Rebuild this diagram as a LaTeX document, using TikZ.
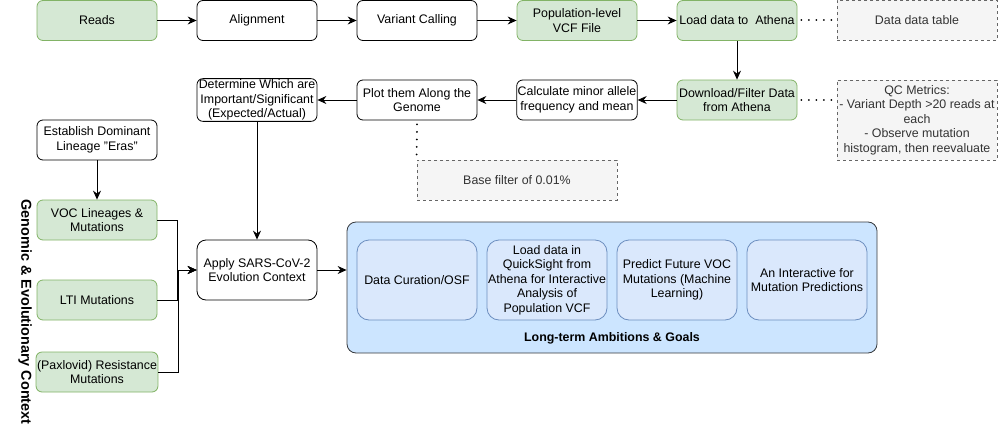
\documentclass[tikz,border=0pt]{standalone}
\usepackage{fontspec}
\setmainfont{Liberation Sans}
\usetikzlibrary{arrows.meta}
\definecolor{gfill}{HTML}{D5E8D4}
\definecolor{gline}{HTML}{82B366}
\definecolor{nfill}{HTML}{F5F5F5}
\definecolor{nline}{HTML}{666666}
\definecolor{ntext}{HTML}{333333}
\definecolor{bigfill}{HTML}{CCE5FF}
\definecolor{bigline}{HTML}{36393D}
\definecolor{bfill}{HTML}{DAE8FC}
\definecolor{bline}{HTML}{6C8EBF}
\tikzset{
  txt/.style={font=\fontsize{12.4}{14.6}\selectfont},
  base/.style={draw, line width=0.8pt, rounded corners=6pt, minimum width=120pt, minimum height=40pt, align=center, inner sep=1pt, txt},
  plain/.style={base, fill=white},
  green/.style={base, fill=gfill, draw=gline},
  notebox/.style={draw=nline, fill=nfill, dashed, dash pattern=on 3pt off 3pt, line width=0.8pt, minimum width=160pt, minimum height=40pt, align=center, text=ntext, inner sep=1pt, txt},
  goal/.style={draw=bline, fill=bfill, line width=0.8pt, rounded corners=12pt, minimum width=120pt, minimum height=80pt, align=center, inner sep=1pt, txt},
  arr/.style={-{Stealth[length=9pt,width=8pt,inset=3pt]}, line width=0.8pt},
  dots/.style={line width=2pt, dash pattern=on 0.01pt off 7.5pt, line cap=round},
}
\begin{document}
\begin{tikzpicture}[x=1pt,y=-1pt]
\useasboundingbox (0,0) rectangle (998,428);
% row 1
\node[green] (reads) at (97,20.5) {Reads};
\node[plain] (align) at (257,20.5) {Alignment};
\node[plain] (vc) at (417,20.5) {Variant Calling};
\node[green] (pop) at (577,20.5) {Population-level\\VCF File};
\node[green] (load) at (737,20.5) {Load data to\ \ Athena};
\node[notebox] (table) at (917,20.5) {Data data table};
% row 2
\node[plain] (det) at (257,100) {Determine Which are\\Important/Significant\\(Expected/Actual)};
\node[plain] (plot) at (417,100) {Plot them Along the\\Genome};
\node[plain] (calc) at (577,100) {Calculate minor allele\\frequency and mean};
\node[green] (dl) at (737,100) {Download/Filter Data\\from Athena};
\node[notebox, minimum height=80pt] (qc) at (917,120) {QC Metrics:\\- Variant Depth >20 reads at\\each\\- Observe mutation\\histogram, then reevaluate};
\node[notebox, minimum width=200pt] (bf) at (517,180) {Base filter of 0.01\%};
% left column
\node[plain] (est) at (97,140) {Establish Dominant\\Lineage "Eras"};
\node[green] (voc) at (97,220) {VOC Lineages \&\\Mutations};
\node[green] (lti) at (97,300) {LTI Mutations};
\node[green] (pax) at (97,372) {(Paxlovid) Resistance\\Mutations};
\node[plain, minimum height=60pt, rounded corners=9pt] (apply) at (257,270) {Apply SARS-CoV-2\\Evolution Context};
\node[rotate=-90, font=\bfseries\fontsize{14.4}{16}\selectfont] (ctx) at (25,312) {Genomic \& Evolutionary Context};
% big container
\node[draw=bigline, fill=bigfill, line width=0.8pt, rounded corners=9pt, minimum width=530pt, minimum height=131pt] (big) at (612,287.5) {};
\node[font=\bfseries\fontsize{12.4}{14.6}\selectfont] (bigt) at (612,338) {Long-term Ambitions \& Goals};
\node[goal] (g1) at (417,280) {Data Curation/OSF};
\node[goal] (g2) at (547,280) {Load data in\\QuickSight from\\Athena for Interactive\\Analysis of\\Population VCF};
\node[goal] (g3) at (677,280) {Predict Future VOC\\Mutations (Machine\\Learning)};
\node[goal] (g4) at (807,280) {An Interactive for\\Mutation Predictions};
% connectors
\draw[arr] (reads) -- (align);
\draw[arr] (align) -- (vc);
\draw[arr] (vc) -- (pop);
\draw[arr] (pop) -- (load);
\draw[arr] (load) -- (dl);
\draw[arr] (dl) -- (calc);
\draw[arr] (calc) -- (plot);
\draw[arr] (plot) -- (det);
\draw[arr] (det) -- (apply);
\draw[arr] (est) -- (voc);
\draw[arr] (voc.east) -- ++(20,0) |- (apply.west);
\draw[arr] (lti.east) -- ++(20,0) |- (apply.west);
\draw[arr] (pax.east) -- ++(20,0) |- (apply.west);
\draw[arr] (apply) -- (big.west |- apply.east);
\draw[dots] (load.east) ++(4,0) -- (table.west);
\draw[dots] (dl.east) ++(4,0) -- (qc.west |- dl.east);
\draw[dots] (plot.south) ++(0,4) -- (bf.north west);
\end{tikzpicture}
\end{document}
